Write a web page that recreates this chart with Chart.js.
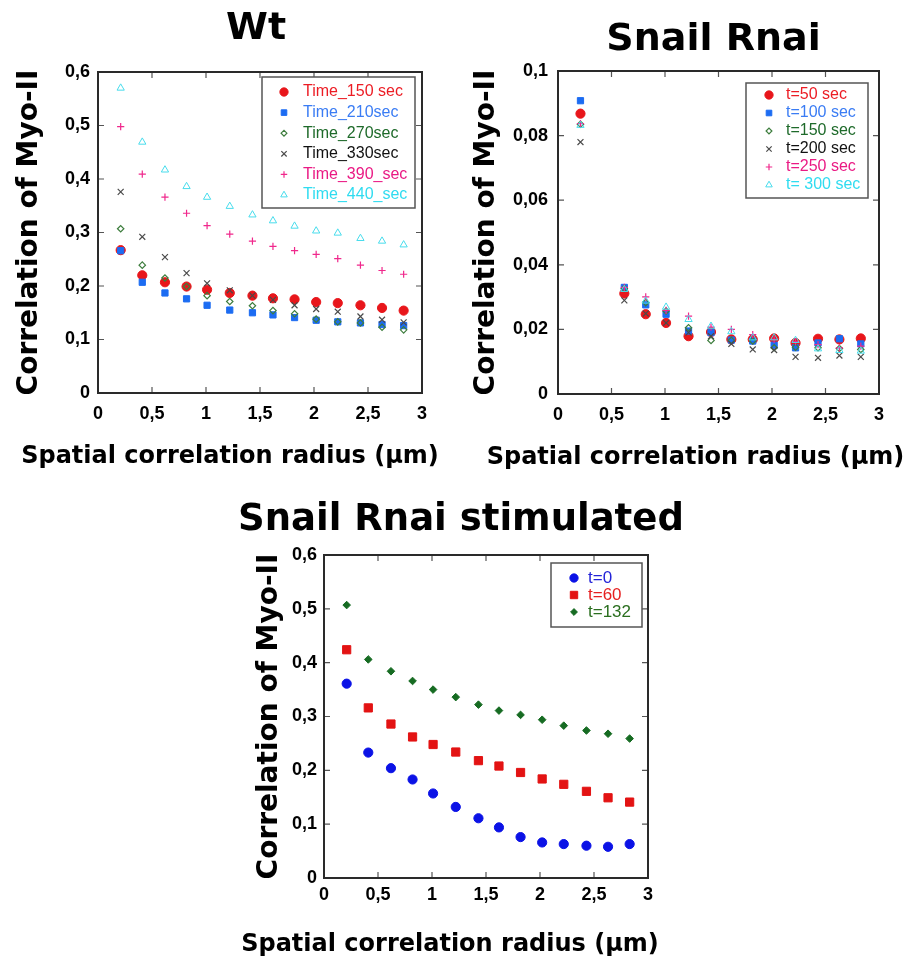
<!DOCTYPE html>
<html>
<head>
<meta charset="utf-8">
<title>Myo-II spatial correlation</title>
<script src="https://cdn.jsdelivr.net/npm/chart.js@4.4.1/dist/chart.umd.min.js"></script>
<style>
  body { margin: 0; background: #fff; width: 910px; height: 958px; position: relative; overflow: hidden; }
  .panel { position: absolute; }
</style>
</head>
<body>
<div class="panel" style="left:0;top:0;width:460px;height:480px"><canvas id="wt-chart"></canvas></div>
<div class="panel" style="left:460px;top:0;width:450px;height:480px"><canvas id="snail-chart"></canvas></div>
<div class="panel" style="left:180px;top:490px;width:530px;height:468px"><canvas id="stim-chart"></canvas></div>
<script>
// radius positions (um), shared by all three panels
const radius = [0.21, 0.41, 0.62, 0.82, 1.01, 1.22, 1.43, 1.62, 1.82, 2.02, 2.22, 2.43, 2.63, 2.83];

// Wt
const wtLabels = ['Time_150 sec', 'Time_210sec', 'Time_270sec', 'Time_330sec', 'Time_390_sec', 'Time_440_sec'];
const wt150 = [0.267, 0.220, 0.207, 0.199, 0.193, 0.187, 0.182, 0.177, 0.175, 0.170, 0.168, 0.164, 0.159, 0.154];
const wt210 = [0.266, 0.207, 0.187, 0.176, 0.164, 0.155, 0.150, 0.146, 0.141, 0.136, 0.133, 0.131, 0.128, 0.126];
const wt270 = [0.307, 0.239, 0.215, 0.199, 0.182, 0.171, 0.163, 0.154, 0.148, 0.138, 0.133, 0.131, 0.123, 0.118];
const wt330 = [0.376, 0.292, 0.254, 0.224, 0.205, 0.192, 0.182, 0.174, 0.164, 0.157, 0.152, 0.143, 0.137, 0.132];
const wt390 = [0.498, 0.409, 0.366, 0.336, 0.313, 0.297, 0.284, 0.274, 0.266, 0.259, 0.251, 0.239, 0.229, 0.222];
const wt440 = [0.570, 0.469, 0.417, 0.386, 0.366, 0.349, 0.333, 0.322, 0.312, 0.303, 0.299, 0.289, 0.284, 0.277];

// Snail Rnai (second radius has no visible points)
const snailLabels = ['t=50 sec', 't=100 sec', 't=150 sec', 't=200 sec', 't=250 sec', 't= 300 sec'];
const snail50  = [0.0868, null, 0.0311, 0.0247, 0.0220, 0.0179, 0.0192, 0.0169, 0.0169, 0.0172, 0.0158, 0.0171, 0.0169, 0.0172];
const snail100 = [0.0908, null, 0.0330, 0.0276, 0.0247, 0.0195, 0.0190, 0.0167, 0.0164, 0.0151, 0.0143, 0.0158, 0.0171, 0.0155];
const snail150 = [0.0835, null, 0.0327, 0.0283, 0.0257, 0.0205, 0.0166, 0.0166, 0.0164, 0.0143, 0.0145, 0.0143, 0.0141, 0.0138];
const snail200 = [0.0780, null, 0.0290, 0.0249, 0.0220, 0.0190, 0.0179, 0.0155, 0.0138, 0.0136, 0.0115, 0.0112, 0.0119, 0.0115];
const snail250 = [0.0837, null, 0.0330, 0.0301, 0.0259, 0.0241, 0.0207, 0.0200, 0.0184, 0.0169, 0.0162, 0.0153, 0.0143, 0.0148];
const snail300 = [0.0832, null, 0.0324, 0.0288, 0.0269, 0.0231, 0.0210, 0.0193, 0.0174, 0.0174, 0.0166, 0.0140, 0.0135, 0.0133];

// Snail Rnai stimulated
const stimLabels = ['t=0', 't=60', 't=132'];
const stim0   = [0.361, 0.233, 0.204, 0.183, 0.157, 0.132, 0.111, 0.094, 0.076, 0.066, 0.063, 0.060, 0.058, 0.063];
const stim60  = [0.424, 0.316, 0.286, 0.262, 0.248, 0.234, 0.218, 0.208, 0.196, 0.184, 0.174, 0.161, 0.149, 0.141];
const stim132 = [0.507, 0.406, 0.384, 0.366, 0.350, 0.336, 0.322, 0.311, 0.303, 0.294, 0.283, 0.274, 0.268, 0.259];

const xTicks = [0, 0.5, 1, 1.5, 2, 2.5, 3];

const TITLE_FONT = '"DejaVu Sans", Verdana, sans-serif';
const TICK_FONT = '"Liberation Sans", Arial, sans-serif';

// marker styles for the six time series (Wt and Snail Rnai panels)
const sixStyles = [
    { pointStyle: 'circle',   pointRadius: 4.6, backgroundColor: '#e8161b', borderColor: '#e8161b', borderWidth: 1,   labelColor: '#ec1c24' },
    { pointStyle: 'rect',     pointRadius: 4.4, backgroundColor: '#1c6cf2', borderColor: '#1c6cf2', borderWidth: 1,   labelColor: '#3a7cf4' },
    { pointStyle: 'rectRot',  pointRadius: 3.2, backgroundColor: 'rgba(255,255,255,0)', borderColor: '#3d7d3d', borderWidth: 1.2, labelColor: '#1e6a2a' },
    { pointStyle: 'crossRot', pointRadius: 4.2, backgroundColor: '#4a4a4a', borderColor: '#4a4a4a', borderWidth: 1.2, labelColor: '#111111' },
    { pointStyle: 'cross',    pointRadius: 3.6, backgroundColor: '#f0288c', borderColor: '#f0288c', borderWidth: 1.2, labelColor: '#ea1a84' },
    { pointStyle: 'triangle', pointRadius: 4.2, backgroundColor: 'rgba(255,255,255,0)', borderColor: '#48dcec', borderWidth: 1,   labelColor: '#2fdcf0' }
];

const stimStyles = [
    { pointStyle: 'circle',  pointRadius: 4.6, backgroundColor: '#0b12e6', borderColor: '#0b12e6', borderWidth: 1, labelColor: '#2323d8' },
    { pointStyle: 'rect',    pointRadius: 5.8, backgroundColor: '#e31313', borderColor: '#e31313', borderWidth: 1, labelColor: '#e62020' },
    { pointStyle: 'rectRot', pointRadius: 3.8, backgroundColor: '#166b22', borderColor: '#166b22', borderWidth: 1, labelColor: '#2a6e1e' }
];

function commaNum(v) {
    return String(parseFloat(Number(v).toFixed(3))).replace('.', ',');
}

function buildDatasets(labels, series, styles) {
    return labels.map((label, i) => Object.assign({
        label: label,
        data: series[i].map((v, k) => ({ x: radius[k], y: v })),
        order: labels.length - i   // later series drawn on top
    }, styles[i]));
}

// frame around the plot with inward tick marks on all four sides
const frameTicks = {
    id: 'frameTicks',
    beforeDatasetsDraw(chart) {
        const { ctx, chartArea: a, scales: { x, y } } = chart;
        ctx.save();
        ctx.strokeStyle = '#555';
        ctx.lineWidth = 1.2;
        ctx.beginPath();
        x.ticks.forEach(t => {
            const px = x.getPixelForValue(t.value);
            if (px <= a.left + 1 || px >= a.right - 1) return;
            ctx.moveTo(px, a.bottom); ctx.lineTo(px, a.bottom - 6);
            ctx.moveTo(px, a.top); ctx.lineTo(px, a.top + 6);
        });
        y.ticks.forEach(t => {
            const py = y.getPixelForValue(t.value);
            if (py <= a.top + 1 || py >= a.bottom - 1) return;
            ctx.moveTo(a.left, py); ctx.lineTo(a.left + 6, py);
            ctx.moveTo(a.right, py); ctx.lineTo(a.right - 6, py);
        });
        ctx.stroke();
        ctx.strokeStyle = '#2a2a2a';
        ctx.lineWidth = 2;
        ctx.strokeRect(a.left, a.top, a.width, a.height);
        ctx.restore();
    }
};

// boxed legend inside the top-right corner of the plot
const boxLegend = {
    id: 'boxLegend',
    afterDatasetsDraw(chart, args, o) {
        const { ctx, chartArea: a } = chart;
        const left = a.right - o.insetRight - o.width;
        const top = a.top + o.insetTop;
        ctx.save();
        ctx.fillStyle = '#fff';
        ctx.fillRect(left, top, o.width, o.height);
        ctx.strokeStyle = '#555';
        ctx.lineWidth = 1.5;
        ctx.strokeRect(left, top, o.width, o.height);
        ctx.font = o.fontSize + 'px ' + TICK_FONT;
        ctx.textAlign = 'left';
        ctx.textBaseline = 'middle';
        chart.data.datasets.forEach((ds, i) => {
            const cy = top + o.firstRow + i * o.rowGap;
            ctx.fillStyle = ds.backgroundColor;
            ctx.strokeStyle = ds.borderColor;
            ctx.lineWidth = ds.borderWidth;
            Chart.helpers.drawPoint(ctx, {
                pointStyle: ds.pointStyle,
                radius: ds.pointRadius * o.markerScale,
                rotation: 0,
                borderWidth: ds.borderWidth
            }, left + o.markerX, cy);
            ctx.fillStyle = ds.labelColor;
            ctx.fillText(ds.label, left + o.textX, cy);
        });
        ctx.restore();
    }
};

// panel title and x axis title, placed relative to the plot centre
const captions = {
    id: 'captions',
    afterDraw(chart, args, o) {
        const { ctx, chartArea: a } = chart;
        const mid = (a.left + a.right) / 2;
        ctx.save();
        ctx.fillStyle = '#000';
        ctx.textAlign = 'center';
        ctx.textBaseline = 'middle';
        ctx.font = 'bold ' + o.titleSize + 'px ' + TITLE_FONT;
        ctx.fillText(o.title, mid + o.titleDx, o.titleY);
        ctx.font = 'bold ' + o.xSize + 'px ' + TITLE_FONT;
        ctx.fillText(o.xTitle, mid + o.xDx, o.xY);
        ctx.restore();
    }
};

function makeChart(id, datasets, yMax, yStep, g) {
    const canvas = document.getElementById(id);
    if (!canvas) return;
    new Chart(canvas.getContext('2d'), {
        type: 'scatter',
        data: { datasets: datasets },
        plugins: [frameTicks, boxLegend, captions],
        options: {
            responsive: true,
            maintainAspectRatio: false,
            animation: false,
            events: [],
            layout: { padding: { top: g.padTop, right: g.padRight, left: 0, bottom: 0 } },
            plugins: {
                legend: { display: false },
                tooltip: { enabled: false },
                boxLegend: g.legend,
                captions: g.captions
            },
            scales: {
                x: {
                    type: 'linear',
                    min: 0,
                    max: 3,
                    afterBuildTicks: s => { s.ticks = xTicks.map(v => ({ value: v })); },
                    afterFit: s => { s.height = g.xHeight; },
                    grid: { display: false, drawTicks: false },
                    border: { display: false },
                    ticks: {
                        padding: g.xTickPad,
                        color: '#000',
                        maxRotation: 0,
                        font: { family: TICK_FONT, size: 18, weight: 'bold' },
                        callback: v => commaNum(v)
                    }
                },
                y: {
                    type: 'linear',
                    min: 0,
                    max: yMax,
                    afterFit: s => { s.width = g.yWidth; },
                    grid: { display: false, drawTicks: false },
                    border: { display: false },
                    ticks: {
                        stepSize: yStep,
                        padding: g.yTickPad,
                        color: '#000',
                        font: { family: TICK_FONT, size: 18, weight: 'bold' },
                        callback: v => commaNum(v)
                    },
                    title: {
                        display: true,
                        text: 'Correlation of Myo-II',
                        color: '#000',
                        padding: { top: g.yTitlePad, bottom: 0 },
                        font: { family: TITLE_FONT, size: 28, weight: 'bold' }
                    }
                }
            }
        }
    });
}

document.addEventListener('DOMContentLoaded', function() {
    makeChart('wt-chart',
        buildDatasets(wtLabels, [wt150, wt210, wt270, wt330, wt390, wt440], sixStyles),
        0.6, 0.1, {
            padTop: 72, padRight: 38, yWidth: 98, xHeight: 87, xTickPad: 10, yTickPad: 8, yTitlePad: 13,
            legend: { insetRight: 7, insetTop: 5, width: 153, height: 131, firstRow: 15, rowGap: 20.6,
                      markerX: 22, textX: 41, fontSize: 16, markerScale: 0.9 },
            captions: { title: 'Wt', titleSize: 38, titleDx: -4, titleY: 29,
                        xTitle: 'Spatial correlation radius (\u00b5m)', xSize: 24, xDx: -30, xY: 457 }
        });

    makeChart('snail-chart',
        buildDatasets(snailLabels, [snail50, snail100, snail150, snail200, snail250, snail300], sixStyles),
        0.1, 0.02, {
            padTop: 71, padRight: 31, yWidth: 98, xHeight: 86, xTickPad: 10, yTickPad: 10, yTitlePad: 10,
            legend: { insetRight: 11, insetTop: 12, width: 122, height: 115, firstRow: 12, rowGap: 18,
                      markerX: 23, textX: 40, fontSize: 16, markerScale: 0.9 },
            captions: { title: 'Snail Rnai', titleSize: 38, titleDx: -5, titleY: 40,
                        xTitle: 'Spatial correlation radius (\u00b5m)', xSize: 24, xDx: -23, xY: 458 }
        });

    makeChart('stim-chart',
        buildDatasets(stimLabels, [stim0, stim60, stim132], stimStyles),
        0.6, 0.1, {
            padTop: 65, padRight: 62, yWidth: 144, xHeight: 80, xTickPad: 6, yTickPad: 7, yTitlePad: 73,
            legend: { insetRight: 6, insetTop: 8, width: 91, height: 64, firstRow: 15, rowGap: 17,
                      markerX: 23, textX: 37, fontSize: 17, markerScale: 0.9 },
            captions: { title: 'Snail Rnai stimulated', titleSize: 37, titleDx: -25, titleY: 30,
                        xTitle: 'Spatial correlation radius (\u00b5m)', xSize: 24, xDx: -36, xY: 455 }
        });
});
</script>
</body>
</html>
